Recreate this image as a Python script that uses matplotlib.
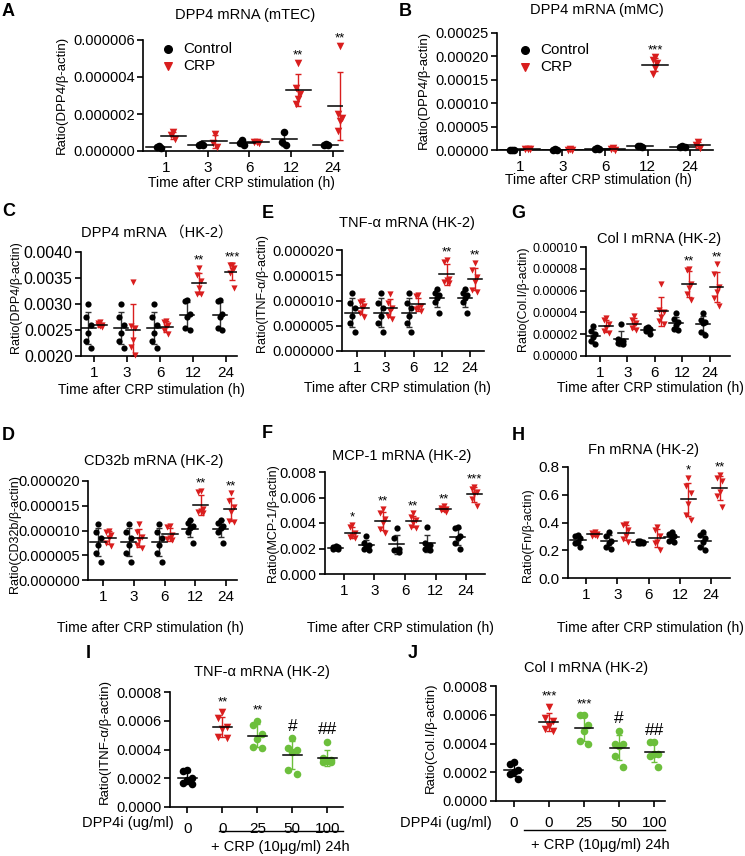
import numpy as np
import matplotlib
matplotlib.use('Agg')
import matplotlib.pyplot as plt
from matplotlib.ticker import FormatStrFormatter
import matplotlib.transforms as mtransforms

plt.rcParams['font.family'] = ['Liberation Sans', 'Noto Sans CJK SC', 'DejaVu Sans']

W, H = 745, 856
RED = '#d91e1e'
GREEN = '#6cbf3c'

time_labels = ['1', '3', '6', '12', '24']

# A: DPP4 mRNA (mTEC)
a_ctrl = [[2.5e-7, 2.0e-7, 1.5e-7], [4.0e-7, 3.5e-7, 3.0e-7], [6.0e-7, 4.5e-7, 3.0e-7],
          [1.05e-6, 5.0e-7, 3.5e-7], [4.0e-7, 3.5e-7, 3.0e-7]]
a_crp = [[1.0e-6, 8.5e-7, 6.5e-7], [9.0e-7, 4.5e-7, 2.0e-7], [5.0e-7, 5.0e-7, 4.5e-7],
         [4.75e-6, 3.4e-6, 3.1e-6, 2.8e-6, 2.55e-6], [5.7e-6, 2.0e-6, 1.8e-6, 1.6e-6, 1.1e-6]]
a_stars = ['', '', '', '**', '**']

# B: DPP4 mRNA (mMC)
b_ctrl = [[1.0e-6, 1.0e-6, 0.5e-6], [1.5e-6, 1.0e-6, 0.5e-6], [4.0e-6, 3.0e-6, 1.5e-6],
          [9.0e-6, 8.0e-6, 7.0e-6], [9.0e-6, 7.0e-6, 6.0e-6]]
b_crp = [[2.5e-6, 2.0e-6, 1.5e-6], [1.5e-6, 1.0e-6, 0.5e-6], [5.0e-6, 3.0e-6, 1.0e-6],
         [1.98e-4, 1.93e-4, 1.85e-4, 1.75e-4, 1.62e-4], [1.8e-5, 1.0e-5, 5.0e-6]]
b_stars = ['', '', '', '***', '']

# C: DPP4 mRNA (HK-2)
c_ctrl = [[0.0030, 0.00275, 0.0026, 0.00245, 0.00228, 0.00215],
          [0.0030, 0.00275, 0.0026, 0.00245, 0.00228, 0.00215],
          [0.0030, 0.00275, 0.0026, 0.00245, 0.00228, 0.00215],
          [0.00308, 0.00305, 0.0028, 0.00275, 0.00253, 0.0025],
          [0.00308, 0.00305, 0.0028, 0.00275, 0.00253, 0.0025]]
c_crp = [[0.00265, 0.00263, 0.0026, 0.00258, 0.0026, 0.00255],
         [0.00342, 0.00257, 0.00253, 0.0023, 0.00218, 0.00202],
         [0.00268, 0.00265, 0.0026, 0.00255, 0.0025, 0.00242],
         [0.0037, 0.00355, 0.00345, 0.0033, 0.0032, 0.0032],
         [0.00375, 0.00375, 0.0037, 0.00365, 0.0036, 0.0033]]
c_stars = ['', '', '', '**', '***']

# E: TNF-a mRNA (HK-2)
e_ctrl = [[1.14e-5, 0.96e-5, 0.85e-5, 0.70e-5, 0.55e-5, 0.37e-5],
          [1.14e-5, 0.96e-5, 0.85e-5, 0.70e-5, 0.55e-5, 0.37e-5],
          [1.14e-5, 0.96e-5, 0.85e-5, 0.70e-5, 0.55e-5, 0.37e-5],
          [1.22e-5, 1.15e-5, 1.10e-5, 1.05e-5, 0.97e-5, 0.75e-5],
          [1.22e-5, 1.15e-5, 1.10e-5, 1.05e-5, 0.97e-5, 0.75e-5]]
e_crp = [[1.00e-5, 0.97e-5, 0.90e-5, 0.85e-5, 0.75e-5, 0.68e-5],
         [1.13e-5, 0.96e-5, 0.86e-5, 0.80e-5, 0.70e-5, 0.64e-5],
         [1.10e-5, 1.08e-5, 0.90e-5, 0.85e-5, 0.83e-5, 0.80e-5],
         [1.80e-5, 1.77e-5, 1.43e-5, 1.40e-5, 1.37e-5, 1.35e-5],
         [1.75e-5, 1.60e-5, 1.47e-5, 1.37e-5, 1.20e-5, 1.17e-5]]
e_stars = ['', '', '', '**', '**']

# G: Col I mRNA (HK-2)
g_ctrl = [[2.75e-5, 2.3e-5, 2.0e-5, 1.7e-5, 1.35e-5, 1.1e-5],
          [2.9e-5, 1.6e-5, 1.4e-5, 1.3e-5, 1.2e-5, 1.1e-5],
          [2.7e-5, 2.6e-5, 2.5e-5, 2.4e-5, 2.3e-5, 2.0e-5],
          [3.9e-5, 3.4e-5, 3.1e-5, 2.8e-5, 2.5e-5, 2.35e-5],
          [3.9e-5, 3.3e-5, 3.1e-5, 3.0e-5, 2.2e-5, 1.9e-5]]
g_crp = [[3.5e-5, 3.3e-5, 2.9e-5, 2.6e-5, 2.3e-5, 2.1e-5],
         [3.7e-5, 3.3e-5, 3.0e-5, 2.8e-5, 2.6e-5, 2.4e-5],
         [6.6e-5, 4.2e-5, 4.0e-5, 3.6e-5, 3.2e-5, 2.9e-5],
         [8.0e-5, 7.9e-5, 6.6e-5, 6.2e-5, 5.7e-5, 5.1e-5],
         [8.4e-5, 7.5e-5, 6.3e-5, 5.9e-5, 5.3e-5, 4.6e-5]]
g_stars = ['', '', '', '**', '**']

# D: CD32b mRNA (HK-2)
d_ctrl = [[1.14e-5, 0.96e-5, 0.85e-5, 0.70e-5, 0.55e-5, 0.37e-5],
          [1.14e-5, 0.96e-5, 0.85e-5, 0.70e-5, 0.55e-5, 0.37e-5],
          [1.14e-5, 0.96e-5, 0.85e-5, 0.70e-5, 0.55e-5, 0.37e-5],
          [1.22e-5, 1.15e-5, 1.10e-5, 1.05e-5, 0.97e-5, 0.75e-5],
          [1.22e-5, 1.15e-5, 1.10e-5, 1.05e-5, 0.97e-5, 0.75e-5]]
d_crp = [[1.00e-5, 0.97e-5, 0.90e-5, 0.85e-5, 0.75e-5, 0.68e-5],
         [1.13e-5, 0.96e-5, 0.86e-5, 0.80e-5, 0.70e-5, 0.64e-5],
         [1.10e-5, 1.08e-5, 0.90e-5, 0.85e-5, 0.83e-5, 0.80e-5],
         [1.80e-5, 1.77e-5, 1.43e-5, 1.40e-5, 1.37e-5, 1.35e-5],
         [1.75e-5, 1.60e-5, 1.47e-5, 1.37e-5, 1.20e-5, 1.17e-5]]
d_stars = ['', '', '', '**', '**']

# F: MCP-1 mRNA (HK-2)
f_ctrl = [[0.0022, 0.00215, 0.0021, 0.00205, 0.0020, 0.00195],
          [0.0030, 0.0024, 0.0023, 0.00215, 0.0020, 0.0019],
          [0.0036, 0.0028, 0.0020, 0.0019, 0.00185, 0.00175],
          [0.0037, 0.0024, 0.0023, 0.00215, 0.0020, 0.0019],
          [0.0037, 0.0036, 0.0030, 0.0028, 0.0024, 0.0020]]
f_crp = [[0.00385, 0.0037, 0.0032, 0.0030, 0.0029, 0.0028],
         [0.0051, 0.00475, 0.00435, 0.0040, 0.0035, 0.0032],
         [0.00475, 0.0045, 0.0042, 0.0040, 0.0037, 0.0036],
         [0.0053, 0.0052, 0.0051, 0.00505, 0.0050, 0.0049],
         [0.0068, 0.0067, 0.00645, 0.0063, 0.0059, 0.0053]]
f_stars = ['*', '**', '**', '**', '***']

# H: Fn mRNA (HK-2)
h_ctrl = [[0.31, 0.30, 0.285, 0.26, 0.25, 0.225],
          [0.33, 0.30, 0.27, 0.25, 0.225, 0.21],
          [0.27, 0.265, 0.26, 0.255, 0.25, 0.25],
          [0.33, 0.32, 0.30, 0.285, 0.27, 0.26],
          [0.33, 0.31, 0.29, 0.26, 0.225, 0.20]]
h_crp = [[0.33, 0.325, 0.32, 0.31, 0.30, 0.30],
         [0.39, 0.38, 0.345, 0.30, 0.28, 0.26],
         [0.37, 0.345, 0.30, 0.26, 0.25, 0.20],
         [0.72, 0.66, 0.61, 0.53, 0.455, 0.42],
         [0.745, 0.72, 0.70, 0.62, 0.59, 0.515]]
h_stars = ['', '', '', '*', '**']

# I / J: DPP4 inhibitor
dose_labels = ['0', '0', '25', '50', '100']
dose_colors = ['black', RED, GREEN, GREEN, GREEN]
dose_markers = ['o', 'v', 'o', 'o', 'o']
i_vals = [[0.00026, 0.00025, 0.0002, 0.00019, 0.000165, 0.00016],
          [0.00066, 0.00062, 0.00056, 0.00054, 0.00049, 0.00048],
          [0.0006, 0.00057, 0.00051, 0.00047, 0.00042, 0.00041],
          [0.00048, 0.00041, 0.0004, 0.00038, 0.00026, 0.00023],
          [0.000455, 0.00034, 0.00033, 0.00032, 0.00031, 0.00031]]
i_marks = ['', '**', '**', '#', '##']
j_vals = [[0.00027, 0.00026, 0.000214, 0.0002, 0.00019, 0.000156],
          [0.000656, 0.000574, 0.00056, 0.00052, 0.0005, 0.00049],
          [0.0006, 0.0006, 0.00053, 0.00049, 0.00042, 0.0004],
          [0.00049, 0.0004, 0.0004, 0.00038, 0.00031, 0.00024],
          [0.00041, 0.00041, 0.00033, 0.00033, 0.00031, 0.00024]]
j_marks = ['', '***', '***', '#', '##']


fig = plt.figure(figsize=(W / 100, H / 100), dpi=100)


def px_axes(l, t, r, b):
    return fig.add_axes([l / W, 1 - b / H, (r - l) / W, (b - t) / H])


def ftext(x, y, s, **kw):
    kw.setdefault('ha', 'center')
    kw.setdefault('va', 'center')
    fig.text(x / W, 1 - y / H, s, **kw)


def style_axes(ax, ylim, step, fmt, xlim, ysize, xsize=11):
    for side in ['top', 'right']:
        ax.spines[side].set_visible(False)
    for side in ['left', 'bottom']:
        ax.spines[side].set_linewidth(1.2)
    ax.set_ylim(*ylim)
    ax.set_xlim(*xlim)
    ax.set_yticks(np.arange(ylim[0], ylim[1] + step / 2, step))
    ax.yaxis.set_major_formatter(FormatStrFormatter(fmt))
    ax.tick_params(axis='y', length=4, width=1.2, pad=2, labelsize=ysize)
    ax.tick_params(axis='x', length=4, width=1.2, pad=3, labelsize=xsize)


def draw_group(ax, x, vals, color, marker, spread, half_w, ms, ecolor=None):
    vals = np.array(vals)
    m = vals.mean()
    sd = vals.std(ddof=1)
    xs = x + np.resize([0.0, -1.0, 1.0], len(vals)) * spread
    ax.scatter(xs, vals, s=ms, c=color, marker=marker, linewidths=0,
               zorder=3, clip_on=False)
    ax.errorbar([x], [m], yerr=[sd], fmt='none', ecolor=ecolor or color,
                elinewidth=1, capsize=2.5, capthick=1, zorder=2)
    ax.plot([x - half_w, x + half_w], [m, m], color='black', lw=1.1, zorder=4)
    return vals.max()


def time_panel(ax, ctrl, crp, stars, off, spread, half_w, ms):
    for i in range(len(time_labels)):
        draw_group(ax, i - off, ctrl[i], 'black', 'o', spread, half_w, ms, '#333333')
        top = draw_group(ax, i + off, crp[i], RED, 'v', spread, half_w, ms)
        if stars[i]:
            ax.annotate(stars[i], (i + off, top), xytext=(0, 1), textcoords='offset points',
                        ha='center', va='bottom', fontsize=9.5)
    ax.set_xticks(range(len(time_labels)))
    ax.set_xticklabels(time_labels)


def dose_panel(ax, vals, marks):
    for i in range(len(dose_labels)):
        top = draw_group(ax, i, vals[i], dose_colors[i], dose_markers[i], 0.12, 0.27, 30)
        if marks[i]:
            fs = 12.5 if '#' in marks[i] else 9.5
            ax.annotate(marks[i], (i, top), xytext=(0, 3), textcoords='offset points',
                        ha='center', va='bottom', fontsize=fs)
    ax.set_xticks(range(len(dose_labels)))
    ax.set_xticklabels(dose_labels)


# ---- A ----
ax = px_axes(143, 40, 343, 151)
time_panel(ax, a_ctrl, a_crp, a_stars, 0.17, 0.05, 0.3, 30)
style_axes(ax, (0, 6e-6), 2e-6, '%.6f', (-0.55, 4.24), 10.5)
ax.scatter([], [], s=30, c='black', marker='o', label='Control')
ax.scatter([], [], s=30, c=RED, marker='v', label='CRP')
ax.legend(loc='upper left', bbox_to_anchor=(0.05, 1.04), frameon=False, fontsize=11,
          handletextpad=0.4, labelspacing=0.2, handlelength=1.2, borderaxespad=0)
ftext(8, 11, 'A', fontsize=13, fontweight='bold')
ftext(245, 15, 'DPP4 mRNA (mTEC)', fontsize=10.5)
ftext(241, 183, 'Time after CRP stimulation (h)', fontsize=10)
ftext(62, 95, 'Ratio(DPP4/β-actin)', fontsize=9.5, rotation=90)

# ---- B ----
ax = px_axes(497, 33, 713, 150)
time_panel(ax, b_ctrl, b_crp, b_stars, 0.18, 0.05, 0.3, 30)
style_axes(ax, (0, 0.00025), 0.00005, '%.5f', (-0.54, 4.54), 10.5)
ax.scatter([], [], s=30, c='black', marker='o', label='Control')
ax.scatter([], [], s=30, c=RED, marker='v', label='CRP')
ax.legend(loc='upper left', bbox_to_anchor=(0.06, 0.97), frameon=False, fontsize=11,
          handletextpad=0.4, labelspacing=0.2, handlelength=1.2, borderaxespad=0)
ftext(405, 11, 'B', fontsize=13, fontweight='bold')
ftext(597, 10, 'DPP4 mRNA (mMC)', fontsize=10.5)
ftext(598, 180, 'Time after CRP stimulation (h)', fontsize=10)
ftext(424, 90, 'Ratio(DPP4/β-actin)', fontsize=9.5, rotation=90)

# ---- C ----
ax = px_axes(81, 252, 237, 356)
time_panel(ax, c_ctrl, c_crp, c_stars, 0.18, 0.07, 0.22, 20)
style_axes(ax, (0.002, 0.004), 0.0005, '%.4f', (-0.4, 4.33), 11.5)
ftext(9, 212, 'C', fontsize=13, fontweight='bold')
ftext(157, 233, 'DPP4 mRNA （HK-2）', fontsize=10.5)
ftext(151, 390, 'Time after CRP stimulation (h)', fontsize=10)
ftext(16, 297, 'Ratio(DPP4/β-actin)', fontsize=9, rotation=90)

# ---- E ----
ax = px_axes(342, 250, 484, 351)
time_panel(ax, e_ctrl, e_crp, e_stars, 0.17, 0.08, 0.25, 20)
style_axes(ax, (0, 2e-5), 5e-6, '%.6f', (-0.54, 4.5), 10.5)
ftext(268, 213, 'E', fontsize=13, fontweight='bold')
ftext(407, 223, 'TNF-α mRNA (HK-2)', fontsize=10.5)
ftext(397, 388, 'Time after CRP stimulation (h)', fontsize=10)
ftext(262, 293, 'Ratio(ITNF-α/β-actin)', fontsize=9, rotation=90)

# ---- G ----
ax = px_axes(586, 247, 730, 356)
time_panel(ax, g_ctrl, g_crp, g_stars, 0.24, 0.08, 0.25, 20)
style_axes(ax, (0, 1e-4), 2e-5, '%.5f', (-0.5, 4.73), 9)
ftext(518, 213, 'G', fontsize=13, fontweight='bold')
ftext(659, 239, 'Col I mRNA (HK-2)', fontsize=10.5)
ftext(650, 388, 'Time after CRP stimulation (h)', fontsize=10)
ftext(523, 299, 'Ratio(Col.I/β-actin)', fontsize=9, rotation=90)

# ---- D ----
ax = px_axes(88, 481, 237, 580)
time_panel(ax, d_ctrl, d_crp, d_stars, 0.17, 0.08, 0.25, 20)
style_axes(ax, (0, 2e-5), 5e-6, '%.6f', (-0.5, 4.36), 10.5)
ftext(8, 436, 'D', fontsize=13, fontweight='bold')
ftext(154, 461, 'CD32b mRNA (HK-2)', fontsize=10.5)
ftext(150, 628, 'Time after CRP stimulation (h)', fontsize=10)
ftext(15, 534, 'Ratio(CD32b/β-actin)', fontsize=9, rotation=90)

# ---- F ----
ax = px_axes(325, 472, 485, 574)
time_panel(ax, f_ctrl, f_crp, f_stars, 0.27, 0.08, 0.25, 20)
style_axes(ax, (0, 0.008), 0.002, '%.3f', (-0.62, 4.62), 10.5)
ftext(267, 433, 'F', fontsize=13, fontweight='bold')
ftext(402, 456, 'MCP-1 mRNA (HK-2)', fontsize=10.5)
ftext(400, 628, 'Time after CRP stimulation (h)', fontsize=10)
ftext(273, 523, 'Ratio(MCP-1/β-actin)', fontsize=9, rotation=90)

# ---- H ----
ax = px_axes(568, 467, 730, 578)
time_panel(ax, h_ctrl, h_crp, h_stars, 0.27, 0.08, 0.25, 20)
style_axes(ax, (0, 0.8), 0.2, '%.1f', (-0.58, 4.6), 11)
ftext(518, 435, 'H', fontsize=13, fontweight='bold')
ftext(644, 450, 'Fn mRNA (HK-2)', fontsize=10.5)
ftext(650, 628, 'Time after CRP stimulation (h)', fontsize=10)
ftext(528, 535, 'Ratio(Fn/β-actin)', fontsize=9, rotation=90)

# ---- I ----
ax = px_axes(170, 692, 343, 807)
dose_panel(ax, i_vals, i_marks)
style_axes(ax, (0, 0.0008), 0.0002, '%.4f', (-0.5, 4.45), 10.5)
ax.tick_params(axis='x', pad=7)
trans = mtransforms.blended_transform_factory(ax.transData, ax.transAxes)
ax.plot([0.9, 4.45], [-0.21, -0.21], color='black', lw=1, transform=trans, clip_on=False)
ftext(88, 653, 'I', fontsize=13, fontweight='bold')
ftext(262, 672, 'TNF-α mRNA (HK-2)', fontsize=10.5)
ftext(128, 823, 'DPP4i (ug/ml)', fontsize=10.5)
ftext(280, 847, '+ CRP (10μg/ml) 24h', fontsize=10.5)
ftext(105, 741, 'Ratio(ITNF-α/β-actin)', fontsize=9.5, rotation=90)

# ---- J ----
ax = px_axes(496, 686, 665, 801)
dose_panel(ax, j_vals, j_marks)
style_axes(ax, (0, 0.0008), 0.0002, '%.4f', (-0.51, 4.31), 10.5)
ax.tick_params(axis='x', pad=7)
trans = mtransforms.blended_transform_factory(ax.transData, ax.transAxes)
ax.plot([0.3, 4.31], [-0.25, -0.25], color='black', lw=1, transform=trans, clip_on=False)
ftext(413, 653, 'J', fontsize=13, fontweight='bold')
ftext(586, 668, 'Col I mRNA (HK-2)', fontsize=10.5)
ftext(446, 823, 'DPP4i (ug/ml)', fontsize=10.5)
ftext(600, 845, '+ CRP (10μg/ml) 24h', fontsize=10.5)
ftext(431, 738, 'Ratio(Col.I/β-actin)', fontsize=9.5, rotation=90)

fig.savefig('out.png', dpi=100)
